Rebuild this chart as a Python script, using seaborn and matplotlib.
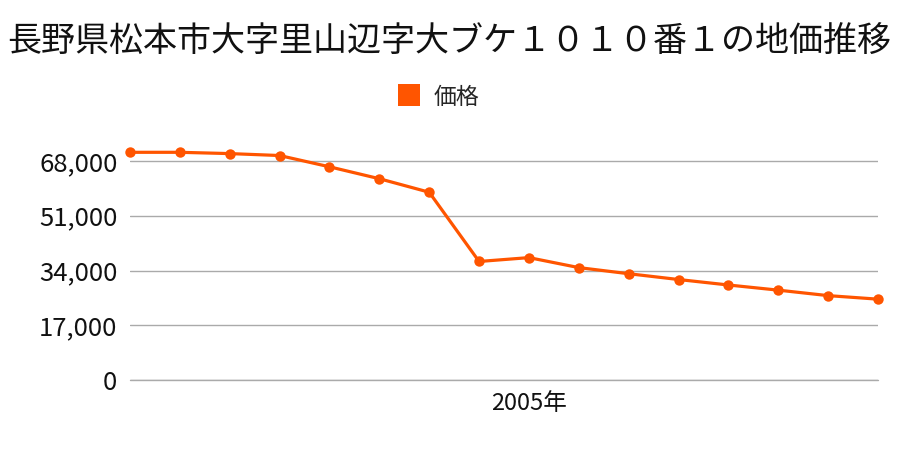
import matplotlib
matplotlib.use("Agg")
import matplotlib.pyplot as plt
import seaborn as sns
import pandas as pd
from matplotlib.lines import Line2D

title = "長野県松本市大字里山辺字大ブケ１０１０番１の地価推移"
series_name = "価格"
years = list(range(1997, 2013))
prices = [70700, 70700, 70300, 69700, 66200, 62500, 58300, 36800,
          38000, 34900, 33000, 31200, 29500, 27900, 26200, 25100]
yticks = [0, 17000, 34000, 51000, 68000]
xtick_years = [2005]
xtick_labels = ["2005年"]

sns.set_theme(style="white")
plt.rcParams['font.family'] = ['Noto Sans CJK JP', 'DejaVu Sans']

color = "#ff5500"
df = pd.DataFrame({"year": years, "price": prices})

fig = plt.figure(figsize=(9, 4.5), dpi=100)
ax = fig.add_axes([130/900, (450-380)/450, (878-130)/900, (380-138)/450])

ax.axhline(0, color="#aaaaaa", linewidth=1, clip_on=False, zorder=1)
sns.lineplot(data=df, x="year", y="price", ax=ax, color=color, linewidth=2.3,
             marker="o", markersize=7.5, markeredgewidth=0, clip_on=False, zorder=3)

ax.set_xlim(years[0], years[-1])
ax.set_ylim(0, 68000 * (380 - 138) / (380 - 161))
ax.set_yticks(yticks)
ax.set_yticklabels([f"{v:,}" for v in yticks], fontsize=18.5)
ax.set_xticks(xtick_years)
ax.set_xticklabels(xtick_labels, fontsize=17)
ax.tick_params(axis="y", length=0, pad=9, colors="#111111")
ax.tick_params(axis="x", length=0, pad=9, colors="#111111")
ax.set_xlabel("")
ax.set_ylabel("")
for s in ax.spines.values():
    s.set_visible(False)
ax.yaxis.grid(True, color="#aaaaaa", linewidth=1)
ax.xaxis.grid(False)

fig.text(0.499, 1 - 42/450, title, ha="center", va="center", fontsize=24.5, color="#111111")

handle = Line2D([], [], linestyle="none", marker="s", markersize=16,
                markerfacecolor=color, markeredgewidth=0)
fig.legend([handle], [series_name], loc="center", bbox_to_anchor=(0.487, 1 - 97/450),
           frameon=False, fontsize=16.5, handletextpad=0.6, handlelength=1.0)

fig.savefig("out.png", dpi=100)
